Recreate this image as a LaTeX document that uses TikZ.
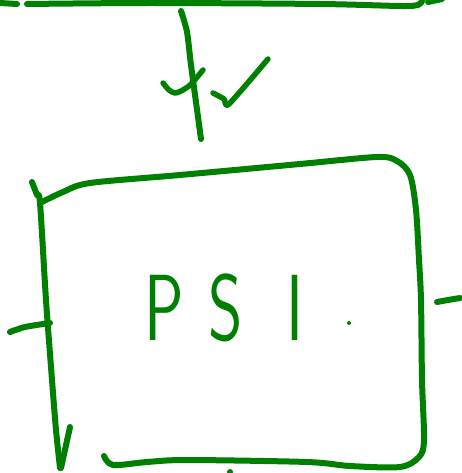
\documentclass[tikz,border=0pt]{standalone}
\usepackage{tikz}
\usetikzlibrary{positioning}
\usepackage{xcolor}
\definecolor{inkgreen}{RGB}{0,128,0}
\tikzset{
    ink/.style={draw=inkgreen, line width=6pt, line cap=round, line join=round},
    thinink/.style={ink, line width=5.5pt},
    inklabel/.style={text=inkgreen, inner sep=0pt, xscale=0.7,
        font=\sffamily\fontsize{94}{94}\selectfont},
}

\begin{document}
\begin{tikzpicture}[x=1pt, y=-1pt]
    \useasboundingbox (0,0) rectangle (462,473);
    \clip (0,0) rectangle (462,473);
    % Upper block, bottom edge
    \draw[ink] (0,3) -- (17,4);
    \draw[ink] plot[smooth] coordinates {(27,4) (150,3) (320,4) (400,6) (418,5) (422,1)};
    \draw[ink] (428,2) -- (442,-1);
    % Link down to the PSI block, with its two ticks
    \coordinate (linkTop) at (181,11);
    \coordinate (linkEnd) at (201,139);
    \draw[ink] plot[smooth] coordinates {(linkTop) (187,32) (191,65) (linkEnd)};
    \draw[thinink] plot[smooth] coordinates {(163,83) (169,90) (175,93) (181,91) (190,85) (203,70)};
    \draw[thinink] plot[smooth, tension=0.4] coordinates {(213,93) (224,99) (229,104) (268,59)};
    % PSI block outline
    \coordinate (boxCorner) at (40,203);
    \draw[ink] plot[smooth] coordinates {(32,182) (37,195) (boxCorner) (46,300) (52,380) (56,430) (60,468)};
    \draw[ink] (70,427) -- (61,468);
    \draw[ink] plot[smooth] coordinates {(boxCorner) (63,192) (90,183) (180,175) (300,164)
        (377,157) (397,161) (410,175) (416,210) (419,260) (421,300) (422,380) (424,440)
        (419,457) (400,467) (350,466) (307,462) (187,460) (147,462) (113,465) (104,456)};
    % Side stubs
    \draw[ink] plot[smooth] coordinates {(10,332) (25,327) (50,323)};
    \draw[ink] plot[smooth] coordinates {(437,302) (448,300) (460,298)};
    % Bottom stub
    \fill[inkgreen] (230,472) circle (3pt);
    % Block name
    \node[inklabel, anchor=base west] (psi) at (144,340) {P\hspace{35pt}S\hspace{63pt}I};
    \fill[inkgreen] (349,323) circle (2pt);
\end{tikzpicture}
\end{document}
